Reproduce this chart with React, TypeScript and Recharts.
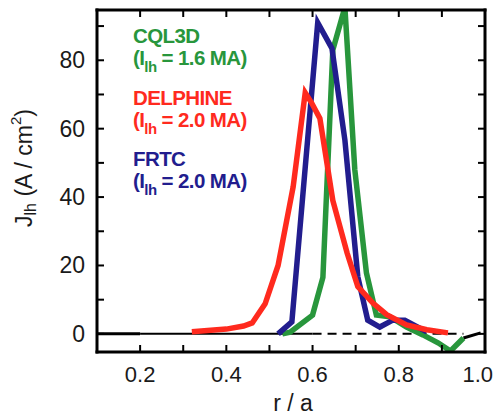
import React from "react";
import { LineChart, Line, XAxis, YAxis, ReferenceLine } from "recharts";

// r/a positions and J_lh values
const cqlR = [0.53, 0.548, 0.6, 0.624, 0.647, 0.675, 0.698, 0.725, 0.748, 0.779, 0.818, 0.856, 0.891, 0.92, 0.95];
const cqlJ = [0, 0.5, 5.5, 16.5, 83, 95.5, 48, 17.8, 5.5, 5, 2, -0.3, -2.6, -5, -1.2];

const delR = [0.32, 0.4, 0.44, 0.46, 0.49, 0.52, 0.555, 0.583, 0.598, 0.617, 0.647, 0.68, 0.705, 0.74, 0.772, 0.818, 0.865, 0.914];
const delJ = [0.6, 1.4, 2.3, 3.2, 8.8, 20, 43, 70.5, 67.5, 63, 39, 23.7, 13.8, 9, 5.6, 2.6, 1.2, 0.3];

const frtR = [0.52, 0.552, 0.612, 0.645, 0.675, 0.705, 0.728, 0.756, 0.786, 0.814, 0.865];
const frtJ = [0, 3.5, 91, 83.5, 56.7, 16.7, 4, 2, 4, 4, 0.6];

const seriesNames = ["CQL3D", "DELPHINE", "FRTC"];
const seriesCurrents = ["1.6", "2.0", "2.0"];
const seriesColors = ["#28963c", "#ff2a1e", "#221d8e"];

const xTicks = [0.1, 0.2, 0.3, 0.4, 0.5, 0.6, 0.7, 0.8, 0.9, 1.0];
const xLabelTicks = [0.2, 0.4, 0.6, 0.8, 1.0];
const yTicks = [0, 10, 20, 30, 40, 50, 60, 70, 80, 90];
const yLabelTicks = [0, 20, 40, 60, 80];

// zero line pieces (r/a, J)
const zeroThick = [0.1, 0.2];
const zeroThin = [0.2, 0.6];
const zeroDashed = [0.6, 0.95];
const tailR = [0.95, 0.99];
const tailJ = [-1.2, 0.3];

const font = "'Liberation Sans', Arial, Helvetica, sans-serif";
const ink = "#1a1a1a";

const rows = (r: number[], j: number[]) => r.map((v, i) => ({ r: v, j: j[i] }));

const hasLabel = (list: number[], v: number) => list.some((t) => Math.abs(t - v) < 1e-6);

const BottomTick = (props: any) => {
  const { x, y, payload } = props;
  const last = payload.value > 0.99;
  return (
    <g>
      <line x1={x} y1={y} x2={x} y2={y - 7} stroke="#000" strokeWidth={2} />
      {hasLabel(xLabelTicks, payload.value) && (
        <text
          x={last ? 493 : x}
          y={y + 30}
          textAnchor={last ? "end" : "middle"}
          fontSize={22}
          fill={ink}
          fontFamily={font}
        >
          {payload.value.toFixed(1)}
        </text>
      )}
    </g>
  );
};

const TopTick = (props: any) => {
  const { x, y } = props;
  return <line x1={x} y1={y} x2={x} y2={y + 7} stroke="#000" strokeWidth={2} />;
};

const LeftTick = (props: any) => {
  const { x, y, payload } = props;
  return (
    <g>
      <line x1={x} y1={y} x2={x + 7} y2={y} stroke="#000" strokeWidth={2} />
      {hasLabel(yLabelTicks, payload.value) && (
        <text x={x - 12} y={y + 8} textAnchor="end" fontSize={23} fill={ink} fontFamily={font}>
          {payload.value}
        </text>
      )}
    </g>
  );
};

const RightTick = (props: any) => {
  const { x, y } = props;
  return <line x1={x} y1={y} x2={x - 7} y2={y} stroke="#000" strokeWidth={2} />;
};

const YTitle = () => (
  <text
    x={24}
    y={168}
    transform="rotate(-90 24 168)"
    textAnchor="middle"
    dominantBaseline="central"
    fontSize={23}
    fill={ink}
    fontFamily={font}
  >
    J
    <tspan fontSize={16} dy={6}>lh</tspan>
    <tspan dy={-6}> (A / cm</tspan>
    <tspan fontSize={15} dy={-9}>2</tspan>
    <tspan dy={9}>)</tspan>
  </text>
);

const XTitle = () => (
  <text x={293} y={411} textAnchor="middle" fontSize={23} fill={ink} fontFamily={font}>
    r / a
  </text>
);

const axisLine = { stroke: "#000", strokeWidth: 3, strokeLinecap: "square" as const };

export default function App() {
  const series = [rows(cqlR, cqlJ), rows(delR, delJ), rows(frtR, frtJ)];
  const order = [0, 2, 1]; // green, blue, red on top

  return (
    <div style={{ position: "absolute", left: 0, top: 0, width: 494, height: 420, background: "#fff" }}>
      <LineChart width={494} height={420} margin={{ top: 9, right: 8, bottom: 0, left: 0 }}>
        <XAxis
          xAxisId="b"
          type="number"
          dataKey="r"
          domain={[0.1, 1.0]}
          allowDataOverflow
          ticks={xTicks}
          interval={0}
          height={68}
          tickSize={0}
          tickMargin={0}
          tickLine={false}
          axisLine={axisLine}
          tick={<BottomTick />}
          label={<XTitle />}
        />
        <XAxis
          xAxisId="t"
          orientation="top"
          type="number"
          dataKey="r"
          domain={[0.1, 1.0]}
          allowDataOverflow
          ticks={xTicks}
          interval={0}
          height={1}
          tickSize={0}
          tickMargin={0}
          tickLine={false}
          axisLine={axisLine}
          tick={<TopTick />}
        />
        <YAxis
          yAxisId="l"
          type="number"
          domain={[-5.3, 94.7]}
          allowDataOverflow
          ticks={yTicks}
          interval={0}
          width={97}
          tickSize={0}
          tickMargin={0}
          tickLine={false}
          axisLine={axisLine}
          tick={<LeftTick />}
          label={<YTitle />}
        />
        <YAxis
          yAxisId="r"
          orientation="right"
          type="number"
          domain={[-5.3, 94.7]}
          allowDataOverflow
          ticks={yTicks}
          interval={0}
          width={1}
          tickSize={0}
          tickMargin={0}
          tickLine={false}
          axisLine={axisLine}
          tick={<RightTick />}
        />

        <ReferenceLine
          xAxisId="b"
          yAxisId="l"
          segment={[{ x: zeroThick[0], y: 0 }, { x: zeroThick[1], y: 0 }]}
          stroke="#000"
          strokeWidth={3}
        />
        <ReferenceLine
          xAxisId="b"
          yAxisId="l"
          segment={[{ x: zeroThin[0], y: 0 }, { x: zeroThin[1], y: 0 }]}
          stroke="#000"
          strokeWidth={2}
        />
        <ReferenceLine
          xAxisId="b"
          yAxisId="l"
          segment={[{ x: zeroDashed[0], y: 0 }, { x: zeroDashed[1], y: 0 }]}
          stroke="#000"
          strokeWidth={2}
          strokeDasharray="9 6"
        />
        <ReferenceLine
          xAxisId="b"
          yAxisId="l"
          segment={[{ x: tailR[0], y: tailJ[0] }, { x: tailR[1], y: tailJ[1] }]}
          stroke="#000"
          strokeWidth={3}
        />

        {order.map((k) => (
          <Line
            key={seriesNames[k]}
            xAxisId="b"
            yAxisId="l"
            data={series[k]}
            dataKey="j"
            type="linear"
            stroke={seriesColors[k]}
            strokeWidth={5.5}
            dot={false}
            activeDot={false}
            isAnimationActive={false}
          />
        ))}
      </LineChart>

      <svg
        width={494}
        height={420}
        style={{ position: "absolute", left: 0, top: 0, pointerEvents: "none" }}
        fontFamily={font}
        fontWeight="bold"
      >
        {seriesNames.map((name, i) => {
          const base = 43 + 61.5 * i;
          return (
            <g key={name} fill={seriesColors[i]} fontSize={20.5} letterSpacing={-0.6}>
              <text x={133} y={base}>{name}</text>
              <text x={133} y={base + 22}>
                (I
                <tspan fontSize={15} dy={7}>lh</tspan>
                <tspan dy={-7}> = {seriesCurrents[i]} MA)</tspan>
              </text>
            </g>
          );
        })}
      </svg>
    </div>
  );
}
